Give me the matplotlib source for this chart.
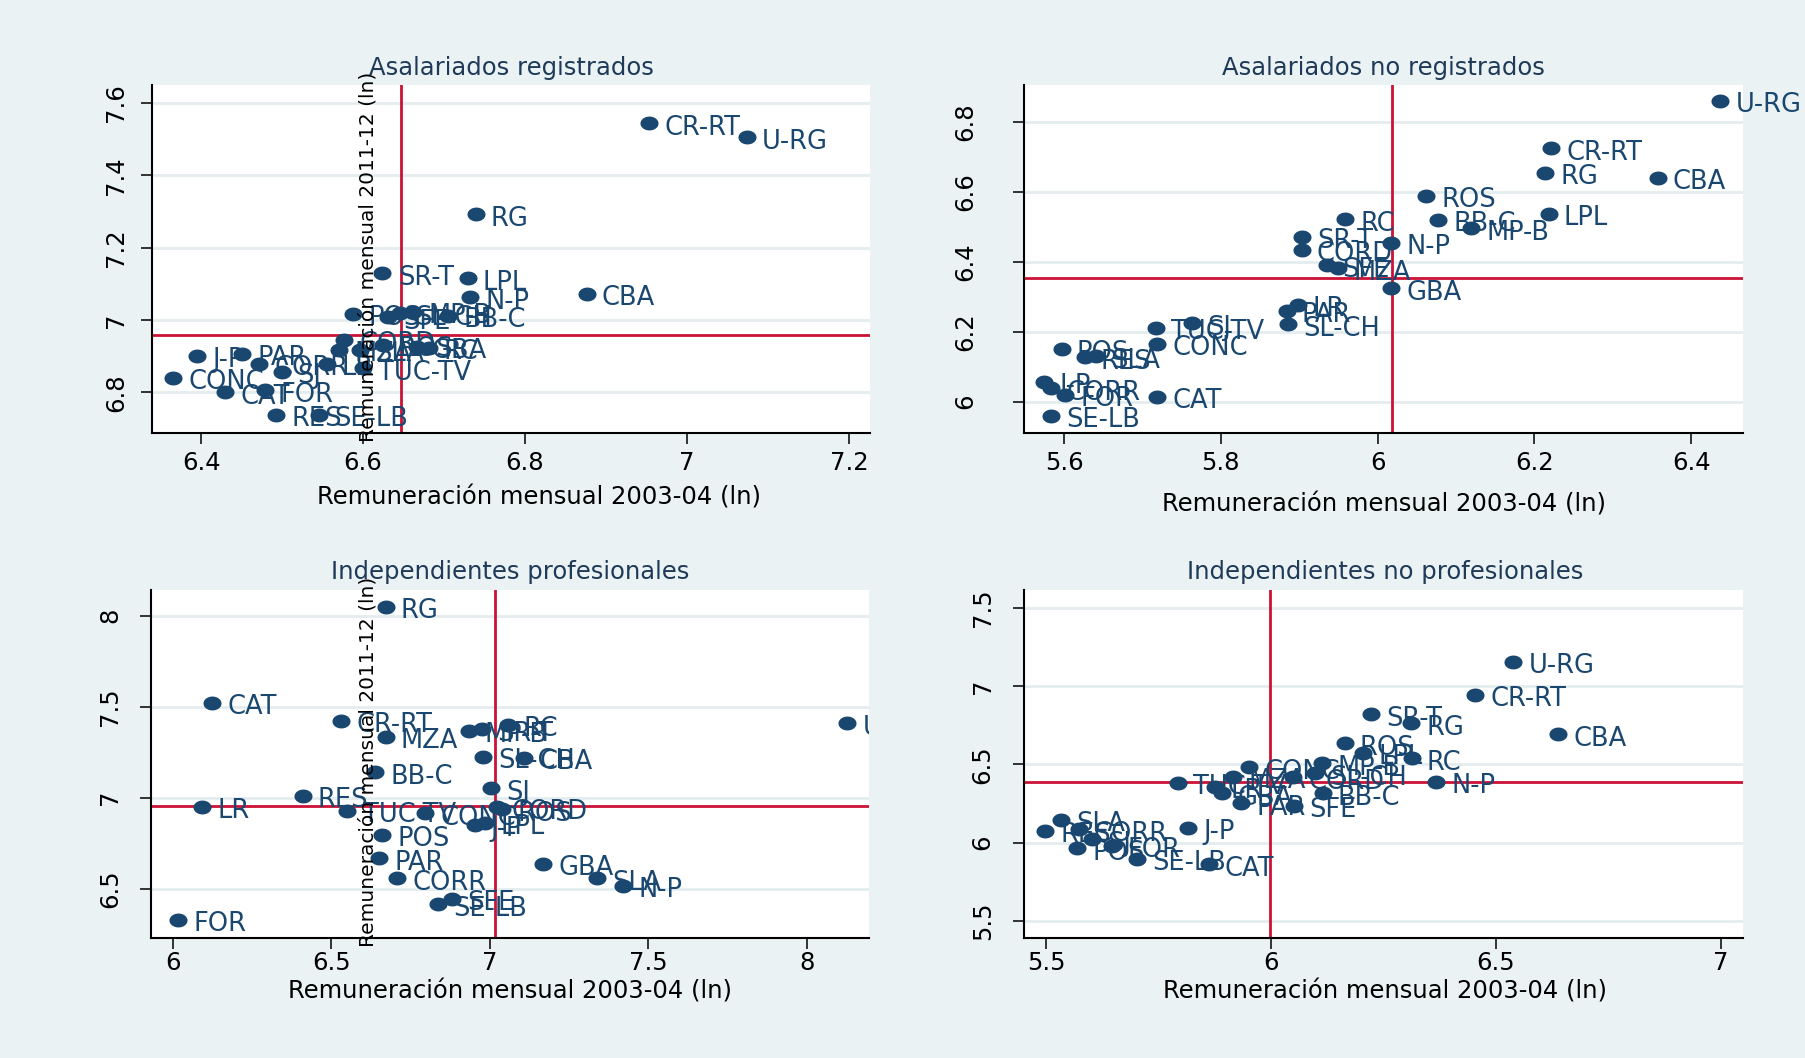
import numpy as np
import matplotlib.pyplot as plt
from matplotlib.path import Path
from matplotlib.ticker import FuncFormatter

# Asalariados registrados
reg_lab = ["CR-RT", "U-RG", "RG", "CBA", "LPL", "N-P", "SR-T", "POS", "SFE", "SL-CH",
           "MP-B", "BB-C", "CORD", "MZA", "SLA", "ROS", "GBA", "RC", "TUC-TV", "LR",
           "J-P", "PAR", "CORR", "SJ", "CONC", "CAT", "FOR", "RES", "SE-LB"]
reg_x = [6.953, 7.074, 6.739, 6.876, 6.729, 6.732, 6.624, 6.588, 6.631, 6.646,
         6.662, 6.705, 6.577, 6.570, 6.596, 6.625, 6.666, 6.681, 6.600, 6.555,
         6.395, 6.451, 6.472, 6.500, 6.365, 6.430, 6.479, 6.493, 6.545]
reg_y = [7.544, 7.505, 7.292, 7.072, 7.115, 7.063, 7.129, 7.017, 7.007, 7.018,
         7.023, 7.011, 6.945, 6.917, 6.917, 6.931, 6.926, 6.923, 6.866, 6.878,
         6.900, 6.906, 6.878, 6.857, 6.840, 6.800, 6.805, 6.737, 6.737]

# Asalariados no registrados
noreg_lab = ["U-RG", "CR-RT", "RG", "CBA", "ROS", "LPL", "RC", "BB-C", "MP-B", "N-P",
             "SR-T", "CORD", "SFE", "MZA", "GBA", "LR", "PAR", "SL-CH", "TUC-TV", "SJ",
             "CONC", "POS", "RES", "SLA", "J-P", "CORR", "FOR", "CAT", "SE-LB"]
noreg_x = [6.437, 6.221, 6.214, 6.357, 6.062, 6.218, 5.959, 6.077, 6.119, 6.017,
           5.903, 5.903, 5.935, 5.950, 6.017, 5.898, 5.884, 5.886, 5.717, 5.763,
           5.719, 5.597, 5.627, 5.641, 5.574, 5.584, 5.601, 5.719, 5.584]
noreg_y = [6.860, 6.724, 6.654, 6.640, 6.588, 6.536, 6.521, 6.519, 6.495, 6.454,
           6.471, 6.433, 6.389, 6.381, 6.324, 6.276, 6.260, 6.221, 6.210, 6.224,
           6.165, 6.150, 6.126, 6.129, 6.057, 6.038, 6.019, 6.013, 5.959]

# Independientes profesionales
prof_lab = ["RG", "CAT", "CR-RT", "MZA", "MP-B", "SR-T", "RC", "SL-CH", "CBA", "BB-C",
            "SJ", "RES", "LR", "TUC-TV", "CONC", "CORD", "ROS", "J-P", "LPL", "POS",
            "PAR", "CORR", "GBA", "SLA", "N-P", "SFE", "SE-LB", "FOR", "U-RG"]
prof_x = [6.672, 6.124, 6.531, 6.672, 6.936, 6.975, 7.059, 6.978, 7.108, 6.639,
          7.003, 6.410, 6.092, 6.551, 6.796, 7.022, 7.038, 6.954, 6.986, 6.662,
          6.651, 6.707, 7.169, 7.338, 7.420, 6.880, 6.836, 6.017, 8.128]
prof_y = [8.049, 7.522, 7.423, 7.335, 7.366, 7.376, 7.399, 7.225, 7.220, 7.139,
          7.052, 7.009, 6.951, 6.927, 6.914, 6.947, 6.936, 6.850, 6.863, 6.795,
          6.667, 6.557, 6.636, 6.557, 6.515, 6.443, 6.414, 6.328, 7.409]

# Independientes no profesionales
noprof_lab = ["U-RG", "CR-RT", "SR-T", "RG", "CBA", "ROS", "LPL", "RC", "MP-B", "N-P",
              "BB-C", "SFE", "SL-CH", "CONC", "TUC-TV", "MZA", "LR", "GBA", "PAR", "CORD",
              "SLA", "RES", "CORR", "SJ", "FOR", "POS", "SE-LB", "CAT", "J-P"]
noprof_x = [6.539, 6.454, 6.222, 6.311, 6.638, 6.164, 6.205, 6.313, 6.113, 6.367,
            6.115, 6.052, 6.098, 5.952, 5.793, 5.915, 5.876, 5.891, 5.934, 6.050,
            5.533, 5.498, 5.572, 5.602, 5.646, 5.568, 5.702, 5.863, 5.815]
noprof_y = [7.154, 6.942, 6.819, 6.761, 6.691, 6.634, 6.574, 6.538, 6.506, 6.389,
            6.315, 6.234, 6.443, 6.481, 6.383, 6.421, 6.357, 6.315, 6.251, 6.417,
            6.145, 6.077, 6.085, 6.022, 5.979, 5.964, 5.896, 5.862, 6.096]

# lineas de referencia (x, y)
reg_ref = (6.647, 6.9585)
noreg_ref = (6.018, 6.3526)
prof_ref = (7.017, 6.953)
noprof_ref = (5.997, 6.385)

titulos = ["Asalariados registrados", "Asalariados no registrados",
           "Independientes profesionales", "Independientes no profesionales"]
xtitulo = "Remuneración mensual 2003-04 (ln)"
ytitulo = "Remuneración mensual 2011-12 (ln)"

navy = "#1A476F"
rojo = "#CC1237"
fondo = "#EAF2F3"
W, H = 1805, 1058

# marcador eliptico (el original esta estirado en horizontal)
t = np.linspace(0, 2 * np.pi, 60)
elipse = Path(np.column_stack([np.cos(t), 0.77 * np.sin(t)]), closed=True)

paneles = [
    dict(lab=reg_lab, x=reg_x, y=reg_y, ref=reg_ref, px=(151.7, 870, 85, 432.7),
         xlim=(6.339, 7.226), ylim=(6.688, 7.650),
         xt=[6.4, 6.6, 6.8, 7.0, 7.2], yt=[6.8, 7.0, 7.2, 7.4, 7.6],
         ypad=17.5, xpad=14, clip=False, xl=(538.8, 497.3), tl=(511, 68)),
    dict(lab=noreg_lab, x=noreg_x, y=noreg_y, ref=noreg_ref, px=(1024, 1743, 85, 432.7),
         xlim=(5.549, 6.466), ylim=(5.911, 6.905),
         xt=[5.6, 5.8, 6.0, 6.2, 6.4], yt=[6.0, 6.2, 6.4, 6.6, 6.8],
         ypad=34, xpad=14, clip=False, xl=(1383.5, 504.2), tl=(1383.5, 68)),
    dict(lab=prof_lab, x=prof_x, y=prof_y, ref=prof_ref, px=(151.3, 869, 590, 938.3),
         xlim=(5.933, 8.196), ylim=(6.227, 8.141),
         xt=[6, 6.5, 7, 7.5, 8], yt=[6.5, 7, 7.5, 8],
         ypad=21.5, xpad=10, clip=True, xl=(510, 991), tl=(510, 572)),
    dict(lab=noprof_lab, x=noprof_x, y=noprof_y, ref=noprof_ref, px=(1023.7, 1742.6, 590, 938.3),
         xlim=(5.450, 7.049), ylim=(5.390, 7.612),
         xt=[5.5, 6, 6.5, 7], yt=[5.5, 6, 6.5, 7, 7.5],
         ypad=21.5, xpad=10, clip=False, xl=(1385, 991), tl=(1385, 572)),
]

fig = plt.figure(figsize=(W / 100, H / 100), dpi=100, facecolor=fondo)
fmt = FuncFormatter(lambda v, p: f"{v:g}")

for p, titulo in zip(paneles, titulos):
    l, r, top, bot = p["px"]
    ax = fig.add_axes([l / W, 1 - bot / H, (r - l) / W, (bot - top) / H])
    ax.set_facecolor("white")

    ax.axvline(p["ref"][0], color=rojo, lw=2, zorder=2)
    ax.axhline(p["ref"][1], color=rojo, lw=2, zorder=2)
    ax.plot(p["x"], p["y"], ls="none", marker=elipse, ms=13, color=navy, mew=0, zorder=3)
    for nom, xi, yi in zip(p["lab"], p["x"], p["y"]):
        ax.annotate(nom, (xi, yi), xytext=(11, -8.2), textcoords="offset points",
                    ha="left", va="baseline", color=navy, fontsize=18.5,
                    clip_on=p["clip"], annotation_clip=False, zorder=4)

    ax.set_xlim(p["xlim"])
    ax.set_ylim(p["ylim"])
    ax.set_xticks(p["xt"])
    ax.set_yticks(p["yt"])
    ax.xaxis.set_major_formatter(fmt)
    ax.yaxis.set_major_formatter(fmt)
    ax.yaxis.grid(True, color="#E3ECEF", lw=2)
    ax.set_axisbelow(True)
    for s in ["top", "right"]:
        ax.spines[s].set_visible(False)
    for s in ["left", "bottom"]:
        ax.spines[s].set_linewidth(1.5)
    ax.tick_params(direction="out", length=8, width=1.1, labelsize=17.5)
    ax.tick_params(axis="y", pad=p["ypad"], labelrotation=90)
    ax.tick_params(axis="x", pad=p["xpad"])
    plt.setp(ax.get_yticklabels(), ha="center", va="center")
    plt.setp(ax.get_xticklabels(), va="center")

    fig.text(p["tl"][0] / W, 1 - p["tl"][1] / H, titulo, ha="center", va="center",
             fontsize=17.5, color="#1f3a58")
    fig.text(p["xl"][0] / W, 1 - p["xl"][1] / H, xtitulo, ha="center", va="center",
             fontsize=17.5, color="black")

# titulo del eje y, tal como aparece dentro de los paneles de la izquierda
fig.text(368 / W, 1 - 257 / H, ytitulo, rotation=90, ha="center", va="center",
         fontsize=14.5, color="black", zorder=10)
fig.text(368 / W, 1 - 762 / H, ytitulo, rotation=90, ha="center", va="center",
         fontsize=14.5, color="black", zorder=10)

fig.savefig("out.png", dpi=100, facecolor=fondo)
